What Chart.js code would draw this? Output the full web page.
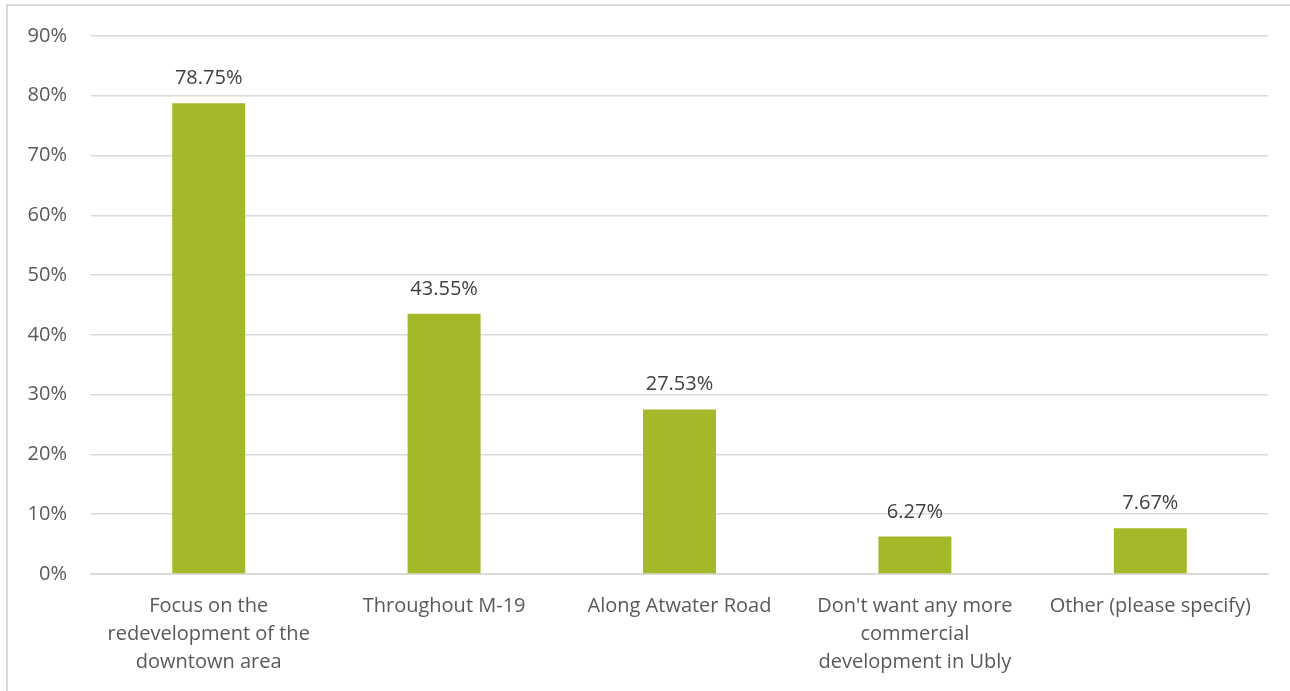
<!DOCTYPE html>
<html><head><meta charset="utf-8">
<script src="https://cdn.jsdelivr.net/npm/chart.js@4/dist/chart.umd.min.js"></script>
<style>
html,body{margin:0;padding:0;background:#fff;width:1290px;height:691px;overflow:hidden;}
#wrap{position:absolute;left:0;top:0;width:1290px;height:691px;}
#frame{position:absolute;left:6px;top:4px;width:1300px;height:700px;border:2px solid #d9d9d9;box-sizing:border-box;}
</style></head>
<body>
<div id="frame"></div>
<div id="wrap"><canvas id="c" width="1290" height="691"></canvas></div>
<script>
const categories = [
  ["Focus on the", "redevelopment of the", "downtown area"],
  ["Throughout M-19"],
  ["Along Atwater Road"],
  ["Don't want any more", "commercial", "development in Ubly"],
  ["Other (please specify)"]
];
const values = [78.75, 43.55, 27.53, 6.27, 7.67];
const valueLabels = ["78.75%", "43.55%", "27.53%", "6.27%", "7.67%"];
const yTicks = [0, 10, 20, 30, 40, 50, 60, 70, 80, 90];

const FONT = "'Open Sans', sans-serif";

const dataLabelPlugin = {
  id: 'dataLabels',
  afterDatasetsDraw(chart) {
    const ctx = chart.ctx;
    const meta = chart.getDatasetMeta(0);
    ctx.save();
    ctx.font = "20px " + FONT;
    ctx.fillStyle = '#404040';
    ctx.textAlign = 'center';
    ctx.textBaseline = 'alphabetic';
    meta.data.forEach((bar, i) => {
      ctx.fillText(valueLabels[i], bar.x, bar.y - 19);
    });
    ctx.restore();
  }
};

new Chart(document.getElementById('c'), {
  type: 'bar',
  data: {
    labels: categories,
    datasets: [{
      data: values,
      backgroundColor: '#A5B82A',
      borderWidth: 0,
      categoryPercentage: 1.0,
      barPercentage: 0.31
    }]
  },
  options: {
    responsive: false,
    animation: false,
    devicePixelRatio: 1,
    layout: { padding: { left: 0, top: 34, right: 22, bottom: 0 } },
    plugins: { legend: { display: false }, tooltip: { enabled: false } },
    scales: {
      y: {
        min: 0, max: 90,
        afterFit(s) { s.width = 91; },
        afterBuildTicks(s) { s.ticks = yTicks.map(v => ({ value: v })); },
        grid: { color: '#d9d9d9', lineWidth: 1.5, drawTicks: false },
        border: { display: false },
        ticks: {
          padding: 24,
          color: '#595959',
          font: { family: FONT, size: 20 },
          callback: v => v + '%'
        }
      },
      x: {
        afterFit(s) { s.height = 691 - 574; },
        grid: { display: false, drawTicks: false },
        border: { display: true, color: '#d9d9d9', width: 2 },
        ticks: {
          padding: 18,
          color: '#595959',
          maxRotation: 0,
          autoSkip: false,
          font: { family: FONT, size: 20, lineHeight: 1.4 }
        }
      }
    }
  },
  plugins: [dataLabelPlugin]
});
</script>
</body></html>
